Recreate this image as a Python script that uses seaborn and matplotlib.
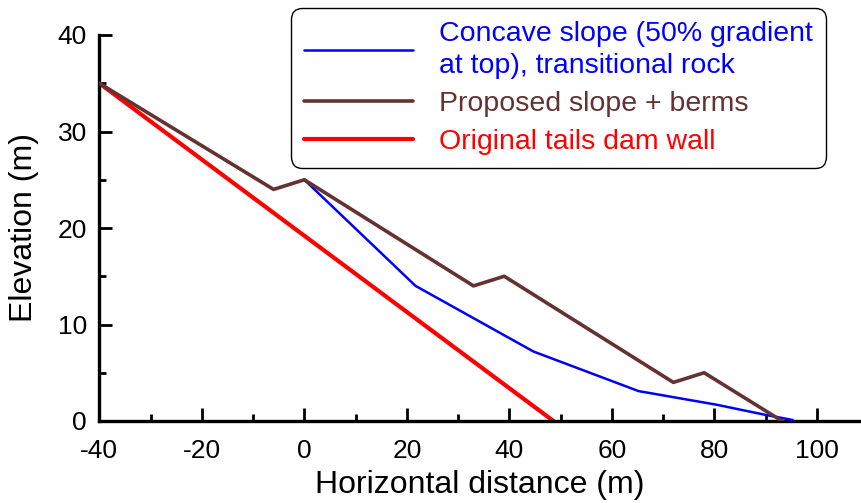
import matplotlib
matplotlib.use("Agg")
import matplotlib.pyplot as plt
import numpy as np
import pandas as pd
import seaborn as sns

# slope profiles (x = horizontal distance, y = elevation, both m)
original_x = [-40, 48.6]
original_y = [35, 0]

proposed_x = [-40, -6, 0, 33, 39, 72, 78, 93.2]
proposed_y = [35, 24, 25, 14, 15, 4, 5, 0]

concave_x = [0, 21.7, 44.7, 65.2, 80.3, 90.3, 95.3]
concave_y = [25, 14, 7.2, 3.1, 1.7, 0.6, 0.1]

labels = [
    "Concave slope (50% gradient\nat top), transitional rock",
    "Proposed slope + berms",
    "Original tails dam wall",
]
colors = ["#0000ff", "#653232", "#ff0000"]
widths = [1.8, 2.6, 3.0]

xticks = [-40, -20, 0, 20, 40, 60, 80, 100]
yticks = [0, 10, 20, 30, 40]


def main() -> None:
    sns.set_style("ticks")
    plt.rcParams["font.family"] = ["Liberation Sans", "DejaVu Sans"]
    plt.rcParams["text.color"] = "black"
    plt.rcParams["axes.labelcolor"] = "black"
    plt.rcParams["xtick.color"] = "black"
    plt.rcParams["ytick.color"] = "black"

    fig = plt.figure(figsize=(8.61, 5.03), dpi=100)
    ax = fig.add_axes([99.3 / 861, 82 / 503, 1 - 99.3 / 861, 386 / 503])

    df_orig = pd.DataFrame({"x": original_x, "y": original_y})
    df_prop = pd.DataFrame({"x": proposed_x, "y": proposed_y})
    df_conc = pd.DataFrame({"x": concave_x, "y": concave_y})

    sns.lineplot(data=df_orig, x="x", y="y", sort=False, ax=ax, color=colors[2],
                 linewidth=widths[2], zorder=2)
    sns.lineplot(data=df_conc, x="x", y="y", sort=False, ax=ax, color=colors[0],
                 linewidth=widths[0], zorder=3)
    sns.lineplot(data=df_prop, x="x", y="y", sort=False, ax=ax, color=colors[1],
                 linewidth=widths[1], zorder=4)

    ax.set_xlim(-40, 108.6)
    ax.set_ylim(0, 40)
    ax.set_xticks(xticks)
    ax.set_xticks(np.arange(-30, 110, 20), minor=True)
    ax.set_yticks(yticks)
    ax.set_yticks(np.arange(5, 40, 10), minor=True)
    ax.set_xticklabels([str(t) for t in xticks])

    for side in ["top", "right"]:
        ax.spines[side].set_visible(False)
    for side in ["left", "bottom"]:
        ax.spines[side].set_linewidth(2.4)
        ax.spines[side].set_color("black")

    ax.tick_params(which="major", direction="in", length=9.5, width=2.0,
                   labelsize=19, color="black", labelcolor="black")
    ax.tick_params(which="minor", direction="in", length=5, width=2.0, color="black")
    ax.tick_params(axis="x", which="major", pad=13)
    ax.tick_params(axis="y", which="major", pad=9)

    ax.set_xlabel("Horizontal distance (m)", fontsize=23, labelpad=5, color="black")
    ax.set_ylabel("Elevation (m)", fontsize=23, labelpad=13, color="black")

    handles = [plt.Line2D([], [], color=c, linewidth=w) for c, w in zip(colors, widths)]
    leg = ax.legend(handles, labels, loc="upper left",
                    bbox_to_anchor=(291 / 861, 1 - 8 / 503),
                    bbox_transform=fig.transFigure, borderaxespad=0,
                    fontsize=20.5, frameon=True, fancybox=True,
                    handlelength=3.85, handletextpad=0.91, labelspacing=0.42,
                    borderpad=0.45, labelcolor="linecolor")
    for txt in leg.get_texts():
        txt.set_linespacing(1.3)
    frame = leg.get_frame()
    frame.set_boxstyle("round", pad=0, rounding_size=0.4)
    frame.set_edgecolor("black")
    frame.set_linewidth(1.0)
    frame.set_alpha(1.0)

    fig.savefig("out.png", dpi=100)
    plt.close(fig)


if __name__ == "__main__":
    main()
